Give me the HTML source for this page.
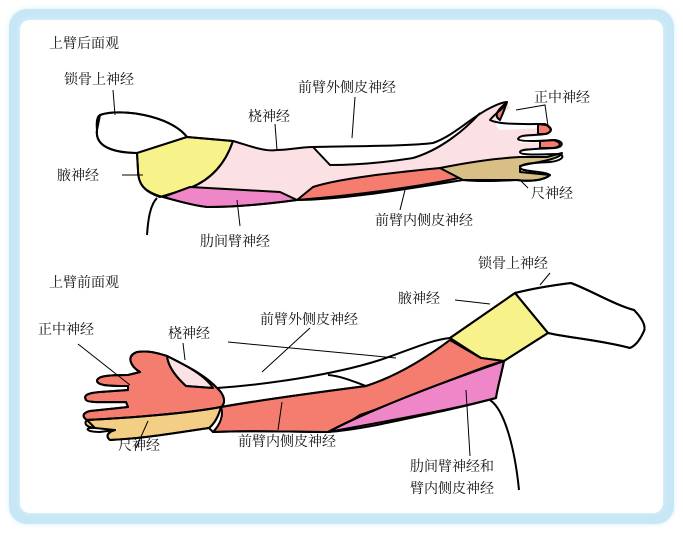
<!DOCTYPE html>
<html><head><meta charset="utf-8"><style>
html,body{margin:0;padding:0;background:#fff;}
body{width:683px;height:533px;overflow:hidden;position:relative;}
.frame{position:absolute;left:9px;top:9px;width:665px;height:515px;border-radius:18px;background:#c8e7f6;box-shadow:0 0 6px #d8eef9;}
.inner{position:absolute;left:20px;top:20px;width:643px;height:493px;border-radius:10px;background:#fff;box-shadow:0 0 4px #e3f2fa;}
svg{position:absolute;left:0;top:0;}
text{font-family:"Liberation Serif","Noto Serif CJK SC",serif;font-size:14px;fill:#111;}
</style></head><body>
<div class="frame"></div><div class="inner"></div>
<svg width="683" height="533" viewBox="0 0 683 533">
<g stroke="#000" stroke-width="2" stroke-linejoin="round">
<!-- TOP ARM -->
<path d="M100,115 C120,108 170,115 187,137 L140,153 C110,153 95,145 97,130 Z" fill="#fff"/>
<path d="M187,137 L233,141 C225,165 210,180 190,188 L160,197 C145,192 138,185 138,170 L137,153 Z" fill="#f8f28a"/>
<path d="M233,141 C250,146 265,152 277,150 C290,150 300,147 313,147 L330,165 C370,165 400,160 413,158 C440,150 465,130 480,113 C490,106 500,102 507,102 L510,108 C500,115 490,122 500,130 L545,128 L550,135 L520,138 L520,143 L555,142 L560,148 L520,150 L520,156 L547,157 L540,160 L463,170 L440,168 C400,172 340,178 313,187 L297,200 L280,192 L190,187 C210,180 225,165 233,141 Z" fill="#fbe0e4" stroke="none"/>
<path d="M313,147 C360,146 410,146 433,143 C450,138 465,125 480,113 L413,158 C380,162 350,165 330,165 Z" fill="#fff" stroke="none"/>
<path d="M313,147 L330,165 C370,165 400,160 413,158 C440,150 465,130 480,113" fill="none"/>
<path d="M233,141 C225,165 210,180 190,188" fill="none"/>
<path d="M313,187 C340,178 400,172 440,168 L463,177 C430,185 360,195 297,200 Z" fill="#f47d6f"/>
<path d="M190,187 L280,192 L297,200 C260,205 230,207 207,207 C190,205 175,200 163,197 Z" fill="#ee86c8"/>
<path d="M440,168 C470,162 500,158 520,157 L547,157 L562,153 C560,160 530,163 520,166 L520,172 L550,175 C545,180 530,182 517,180 L463,180 Z" fill="#d8bf86"/>
<path d="M507,102 C500,108 492,115 500,120 L503,113 Z" fill="#f47d6f"/>
<path d="M538,124 L546,125 C552,128 552,132 546,134 L538,134 Z" fill="#f47d6f"/>
<path d="M540,141 L553,140 C562,142 562,147 553,148 L540,148 Z" fill="#f47d6f"/>
<path d="M100,115 C120,108 170,115 187,137 L233,141 C250,146 265,152 277,150 C290,150 300,147 313,147 C360,146 410,146 433,143 C455,135 470,118 490,108 C500,103 505,102 507,102 C505,108 495,113 490,120 C500,125 525,124 545,124 C553,128 553,132 545,134 C530,136 520,134 518,139 C520,142 540,141 555,140 C565,142 563,147 555,148 C535,149 520,149 520,152 C520,156 545,154 560,154 C566,157 560,161 550,162 C535,163 520,163 520,168 C522,172 545,171 550,175 C545,180 530,182 517,180 C500,181 480,182 463,180 C400,190 340,200 297,200 C260,205 230,207 207,207 C190,205 175,200 163,197 C145,192 138,185 138,170 L137,153 C110,153 95,145 97,130 C96,120 98,116 100,115" fill="none"/>
<path d="M157,198 C150,205 148,220 147,235" fill="none"/>
<!-- BOTTOM ARM -->
<path d="M515,293 C535,288 555,285 571,283 C590,290 615,305 634,310 C642,318 646,326 644,331 C640,340 635,346 630,348 C600,340 570,338 548,333 Z" fill="#fff"/>
<path d="M450,338 L515,293 L548,333 L504,361 L481,358 Z" fill="#f8f28a"/>
<path d="M221,407 C260,400 320,392 366,386 C400,375 430,355 450,340 L481,358 L504,361 C470,370 420,395 360,415 C345,425 335,430 328,432 C290,432 250,430 213,432 C220,425 224,415 221,407 Z" fill="#f47d6f"/>
<path d="M328,432 C360,415 420,390 504,361 C500,380 497,390 496,398 C470,405 443,411 443,411 C400,420 360,430 328,432 Z" fill="#ee86c8"/>
<path d="M137,352 C150,350 160,354 167,356 C185,365 205,375 217,388 C225,395 226,403 221,407 C190,413 130,418 87,420 C82,417 82,413 90,411 L128,407 L126,402 C105,402 88,403 86,400 C83,395 88,393 100,392 L128,390 L128,386 C112,386 98,386 97,381 C97,376 108,375 128,375 L140,372 C130,366 126,356 137,352 Z" fill="#f47d6f"/>
<path d="M167,356 C185,365 205,375 213,388 L186,386 C175,376 168,366 167,356 Z" fill="#fbe0e4"/>
<path d="M87,420 C130,418 190,413 221,407 C218,418 214,424 209,428 C180,432 150,438 110,440 C105,436 108,432 115,430 L95,428 C85,427 84,423 87,420 Z" fill="#f2cf84"/>
<path d="M515,293 C535,288 555,285 571,283 C590,290 615,305 634,310 C642,318 646,326 644,331 C640,340 635,346 630,348 C600,340 570,338 548,333 M515,293 L548,333 M515,293 L450,338 C430,340 410,350 380,360 C330,376 260,385 217,388 M328,375 C340,376 350,380 366,386 M450,340 L481,358 M221,407 C260,400 320,392 366,386 C400,375 430,355 450,340 M328,432 C360,415 420,390 504,361 L548,333 M504,361 C500,380 497,390 496,398 C470,405 443,411 328,432 C290,432 250,430 213,432 L209,428 M217,388 C225,395 226,403 221,407 C218,418 214,424 209,428" fill="none"/>
<path d="M137,352 C150,350 160,354 167,356 C185,365 205,375 217,388 M167,356 C168,366 175,376 186,386 L213,388" fill="none"/>
<path d="M137,352 C126,356 130,366 140,372 L128,375 C108,375 97,376 97,381 C98,386 112,386 128,386 L128,390 L100,392 C88,393 83,395 86,400 C88,403 105,402 126,402 L128,407 L90,411 C82,413 82,417 87,420 L95,428 C84,427 85,432 100,432 L115,430 C108,432 105,436 110,440 C150,438 180,432 209,428" fill="none"/>
<path d="M87,420 C130,418 190,413 221,407" fill="none"/>
<path d="M490,400 C505,410 515,450 519,490" fill="none"/>
</g>
<!-- leader lines -->
<g stroke="#000" stroke-width="1" fill="none">
<path d="M113,90 L115,115"/><path d="M355,97 L352,138"/><path d="M275,124 L277,150"/>
<path d="M516,110 L545,105 L548,126"/><path d="M122,175 L143,175"/><path d="M520,180 L528,188"/>
<path d="M400,210 L405,190"/><path d="M237,200 L240,226"/>
<path d="M550,273 L540,285"/><path d="M455,300 L490,304"/><path d="M310,328 L262,372"/>
<path d="M78,344 L130,385"/><path d="M183,343 L185,360"/><path d="M228,342 L396,358"/>
<path d="M148,421 L136,448"/><path d="M282,402 L278,430"/><path d="M466,390 L470,456"/>
</g>
<g>
<text x="49" y="48">上臂后面观</text>
<text x="64" y="84">锁骨上神经</text>
<text x="298" y="92">前臂外侧皮神经</text>
<text x="248" y="121">桡神经</text>
<text x="534" y="102">正中神经</text>
<text x="57" y="180">腋神经</text>
<text x="531" y="198">尺神经</text>
<text x="375" y="225">前臂内侧皮神经</text>
<text x="200" y="246">肋间臂神经</text>
<text x="49" y="287">上臂前面观</text>
<text x="478" y="268">锁骨上神经</text>
<text x="398" y="303">腋神经</text>
<text x="260" y="324">前臂外侧皮神经</text>
<text x="38" y="334">正中神经</text>
<text x="168" y="338">桡神经</text>
<text x="118" y="450">尺神经</text>
<text x="238" y="446">前臂内侧皮神经</text>
<text x="410" y="471">肋间臂神经和</text>
<text x="410" y="493">臂内侧皮神经</text>
</g>
</svg>
</body></html>
